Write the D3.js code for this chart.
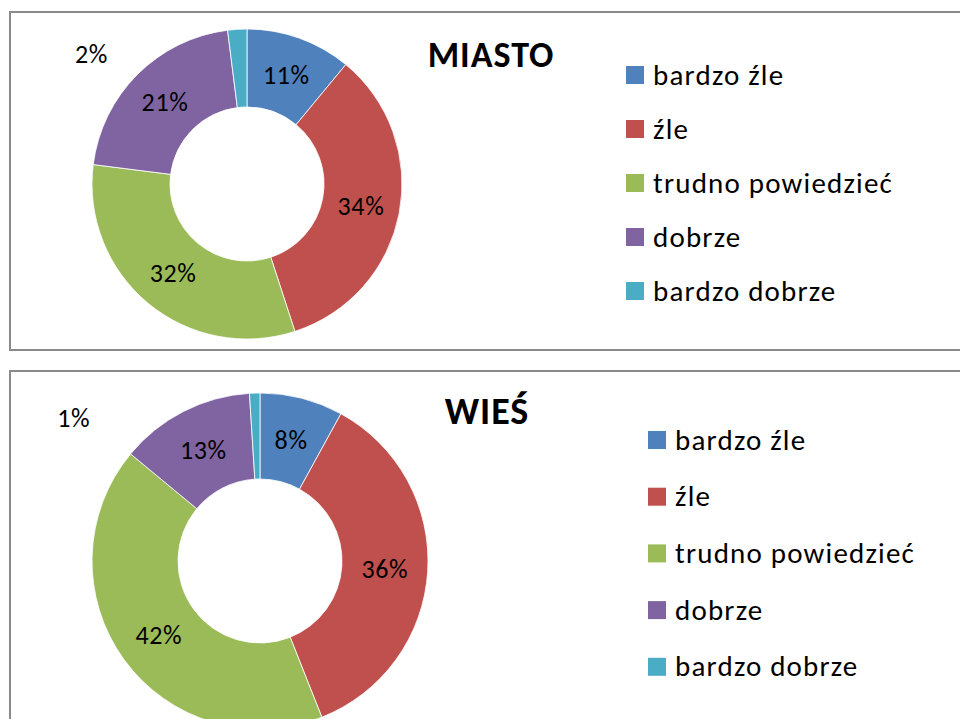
<!DOCTYPE html>
<html>
<head>
<meta charset="utf-8">
<script src="https://cdn.jsdelivr.net/npm/d3@7"></script>
<style>
  html, body { margin: 0; padding: 0; background: #fff; }
  svg text { font-family: Carlito, Calibri, Lato, "Open Sans", sans-serif; fill: #000; }
</style>
</head>
<body>
<svg id="chart" width="960" height="719"></svg>
<script>
// categories and values
var categories = ["bardzo źle", "źle", "trudno powiedzieć", "dobrze", "bardzo dobrze"];
var miastoValues = [11, 34, 32, 21, 2];
var wiesValues = [8, 36, 42, 13, 1];
var sliceColors = ["#4F81BD", "#C0504D", "#9BBB59", "#8064A2", "#4BACC6"];

// layout of the two panels
var panels = [
  { title: "MIASTO", values: miastoValues, box: [10, 12, 990, 338],
    cx: 247, cy: 184, r: 155, r0: 77, titleX: 491, titleY: 67, titleSize: 36,
    legX: 626, legY: 66, legStep: 54, smallAngle: -50, smallDist: 1.31 },
  { title: "WIEŚ", values: wiesValues, box: [10, 371, 990, 400],
    cx: 260, cy: 561, r: 168, r0: 82, titleX: 487, titleY: 424, titleSize: 38,
    legX: 648, legY: 431, legStep: 56.7, smallAngle: -52.4, smallDist: 1.40 }
];

var svg = d3.select("#chart");
var color = d3.scaleOrdinal().domain(categories).range(sliceColors);

var pie = d3.pie().sort(null).value(function(d) { return d.value; });

panels.forEach(function(p) {
  var g = svg.append("g");

  //panel frame
  g.append("rect")
    .attr("x", p.box[0]).attr("y", p.box[1])
    .attr("width", p.box[2]).attr("height", p.box[3])
    .attr("fill", "none")
    .attr("stroke", "#8a8a8a")
    .attr("stroke-width", 2);

  var data = categories.map(function(c, i) { return { name: c, value: p.values[i] }; });
  var arcs = pie(data);

  var arc = d3.arc().innerRadius(p.r0).outerRadius(p.r);
  var labelArc = d3.arc().innerRadius((p.r + p.r0) / 2).outerRadius((p.r + p.r0) / 2);

  var donut = g.append("g").attr("transform", "translate(" + p.cx + "," + p.cy + ")");

  donut.selectAll("path")
    .data(arcs)
    .enter().append("path")
      .attr("d", arc)
      .attr("fill", function(d) { return color(d.data.name); })
      .attr("stroke", "#fff")
      .attr("stroke-width", 0.8);

  donut.selectAll("text.pct")
    .data(arcs)
    .enter().append("text")
      .attr("class", "pct")
      .attr("text-anchor", "middle")
      .attr("dy", "0.35em")
      .style("font-size", "26px")
      .style("letter-spacing", "0.6px")
      .attr("transform", function(d) {
        if (d.data.value < 3) {
          //tiny slice, label sits outside up-left
          var a = p.smallAngle * Math.PI / 180, rr = p.r * p.smallDist;
          return "translate(" + (rr * Math.sin(a)) + "," + (-rr * Math.cos(a)) + ")";
        }
        return "translate(" + labelArc.centroid(d) + ")";
      })
      .text(function(d) { return d.data.value + "%"; });

  //title
  g.append("text")
    .attr("x", p.titleX).attr("y", p.titleY)
    .attr("text-anchor", "middle")
    .style("font-size", p.titleSize + "px")
    .style("font-weight", "bold")
    .style("letter-spacing", "1px")
    .text(p.title);

  //legend
  var leg = g.selectAll("g.leg")
    .data(categories)
    .enter().append("g")
      .attr("class", "leg")
      .attr("transform", function(d, i) { return "translate(" + p.legX + "," + (p.legY + i * p.legStep) + ")"; });

  leg.append("rect")
    .attr("width", 18).attr("height", 18)
    .attr("fill", function(d) { return color(d); });

  leg.append("text")
    .attr("x", 27).attr("y", 18.5)
    .style("font-size", "29px")
    .style("letter-spacing", "1.2px")
    .text(function(d) { return d; });
});
</script>
</body>
</html>
